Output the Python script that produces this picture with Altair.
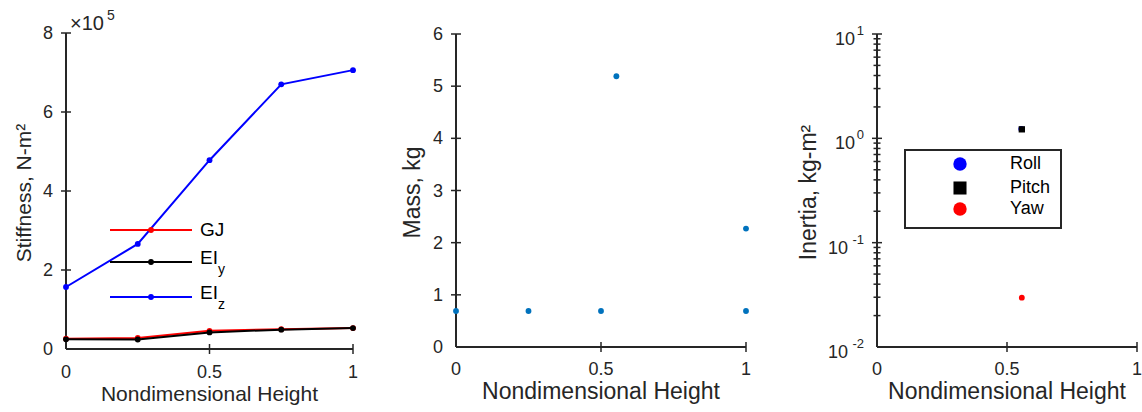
import altair as alt
import pandas as pd

FONT = "Liberation Sans"
AX = "#262626"

# ---------------- data ----------------
height_pts = [0.0, 0.25, 0.5, 0.75, 1.0]
gj_vals = [0.26e5, 0.28e5, 0.46e5, 0.50e5, 0.53e5]
eiy_vals = [0.245e5, 0.24e5, 0.42e5, 0.49e5, 0.53e5]
eiz_vals = [1.57e5, 2.66e5, 4.78e5, 6.70e5, 7.06e5]
stiff_names = ["GJ", "EI", "EI"]
stiff_subs = ["", "y", "z"]
stiff_colors = ["#ff0000", "#000000", "#0000ff"]
stiff_ticks = [0, 200000, 400000, 600000, 800000]
stiff_tick_labels = ["0", "2", "4", "6", "8"]

mass_x = [0.0, 0.25, 0.5, 0.553, 1.0, 1.0]
mass_vals = [0.69, 0.69, 0.69, 5.19, 2.27, 0.69]
mass_ticks = [0, 1, 2, 3, 4, 5, 6]
mass_tick_labels = ["0", "1", "2", "3", "4", "5", "6"]

inertia_names = ["Roll", "Pitch", "Yaw"]
inertia_x = [0.555, 0.557, 0.557]
inertia_vals = [1.23, 1.22, 0.0297]
inertia_shapes = ["circle", "square", "circle"]
inertia_colors = ["#0000ff", "#000000", "#ff0000"]
log_ticks = [0.01, 0.1, 1, 10]
log_sups = ["-2", "-1", "0", "1"]
log_minor = [0.02, 0.03, 0.04, 0.05, 0.06, 0.07, 0.08, 0.09,
             0.2, 0.3, 0.4, 0.5, 0.6, 0.7, 0.8, 0.9,
             2, 3, 4, 5, 6, 7, 8, 9]
x_ticks = [0, 0.5, 1]
x_tick_labels = ["0", "0.5", "1"]
x_title = "Nondimensional Height"


def lin(domain, rng):
    return alt.Scale(type="linear", domain=domain, range=rng, nice=False, zero=False)


XS1, YS1 = lin([0, 1], [66, 353]), lin([0, 800000], [349, 33])
XS2, YS2 = lin([0, 1], [456, 746]), lin([0, 6], [347, 34])
XS3 = lin([0, 1], [877, 1137])
YS3 = alt.Scale(type="log", domain=[0.01, 10], range=[347, 34], nice=False)

layers = []


def one(**cols):
    return alt.Chart(pd.DataFrame({k: [v] for k, v in cols.items()}))


def text(txt, x, y, size, color="#000000", align="left", baseline="middle", angle=0):
    layers.append(one(t=txt).mark_text(font=FONT, fontSize=size, color=color, align=align,
                                       baseline=baseline, angle=angle)
                  .encode(text="t:N", x=alt.value(x), y=alt.value(y)))


def axes(xs, ys, yt, ylabels, ylab_right, xlab_base, ytitle, ytitle_x, ytitle_size,
         xtitle_base, xtitle_size, minor=None):
    # axis lines
    layers.append(one(h=x_ticks[0], a=yt[0], b=yt[-1]).mark_rule(color=AX, strokeWidth=2).encode(
        x=alt.X("h:Q", scale=xs, axis=None), y=alt.Y("a:Q", scale=ys, axis=None), y2="b:Q"))
    layers.append(one(h0=x_ticks[0], h1=x_ticks[-1], a=yt[0]).mark_rule(color=AX, strokeWidth=2).encode(
        x=alt.X("h0:Q", scale=xs, axis=None), x2="h1:Q", y=alt.Y("a:Q", scale=ys, axis=None)))
    # inward ticks (centred on the axis line, half of each shows inside)
    layers.append(alt.Chart(pd.DataFrame({"v": yt[1:], "h": [x_ticks[0]] * (len(yt) - 1)})).mark_tick(
        orient="horizontal", color=AX, thickness=1.5, size=10, opacity=1).encode(
        y=alt.Y("v:Q", scale=ys, axis=None), x=alt.X("h:Q", scale=xs, axis=None)))
    if minor:
        layers.append(alt.Chart(pd.DataFrame({"v": minor, "h": [x_ticks[0]] * len(minor)})).mark_tick(
            orient="horizontal", color=AX, thickness=1.5, size=7, opacity=1).encode(
            y=alt.Y("v:Q", scale=ys, axis=None), x=alt.X("h:Q", scale=xs, axis=None)))
    layers.append(alt.Chart(pd.DataFrame({"v": x_ticks[1:], "a": [yt[0]] * (len(x_ticks) - 1)})).mark_tick(
        orient="vertical", color=AX, thickness=1.5, size=10, opacity=1).encode(
        x=alt.X("v:Q", scale=xs, axis=None), y=alt.Y("a:Q", scale=ys, axis=None)))
    # tick labels
    if ylabels is not None:
        layers.append(alt.Chart(pd.DataFrame({"v": yt, "t": ylabels})).mark_text(
            font=FONT, fontSize=18, color=AX, align="right", baseline="middle", dy=1).encode(
            y=alt.Y("v:Q", scale=ys, axis=None), x=alt.value(ylab_right), text="t:N"))
    layers.append(alt.Chart(pd.DataFrame({"v": x_ticks, "t": x_tick_labels})).mark_text(
        font=FONT, fontSize=18, color=AX, align="center", baseline="alphabetic").encode(
        x=alt.X("v:Q", scale=xs, axis=None), y=alt.value(xlab_base), text="t:N"))
    # titles
    xc = (xs.range[0] + xs.range[1]) / 2
    text(x_title, xc, xtitle_base, xtitle_size, AX, "center", "alphabetic")
    yc = (ys.range[0] + ys.range[1]) / 2 + 2
    text(ytitle, ytitle_x, yc, ytitle_size, AX, "center", "alphabetic", 270)


# ---------------- panel 1 ----------------
axes(XS1, YS1, stiff_ticks, stiff_tick_labels, 53, 378, "Stiffness, N-m²", 31, 21, 401, 21)
for vals, col in zip([gj_vals, eiy_vals, eiz_vals], stiff_colors):
    df = pd.DataFrame({"h": height_pts, "k": vals})
    enc = dict(x=alt.X("h:Q", scale=XS1, axis=None), y=alt.Y("k:Q", scale=YS1, axis=None))
    layers.append(alt.Chart(df).mark_line(color=col, strokeWidth=2).encode(**enc))
    layers.append(alt.Chart(df).mark_circle(color=col, size=34, opacity=1).encode(**enc))

for name, sub, col, ry in zip(stiff_names, stiff_subs, stiff_colors, [230, 262, 297]):
    layers.append(one(a=0).mark_rule(color=col, strokeWidth=2).encode(
        x=alt.value(110), x2=alt.value(192), y=alt.value(ry)))
    layers.append(one(a=0).mark_circle(color=col, size=34, opacity=1).encode(
        x=alt.value(151), y=alt.value(ry)))
    if sub:
        text(name, 200, ry - 4, 19)
        text(sub, 218, ry + 8, 14)
    else:
        text(name, 200, ry, 19)

text("×10", 70, 30, 20, AX, "left", "alphabetic")
text("5", 107, 20, 14, AX, "left", "alphabetic")

# ---------------- panel 2 ----------------
axes(XS2, YS2, mass_ticks, mass_tick_labels, 443, 375, "Mass, kg", 420, 23, 399, 23)
layers.append(alt.Chart(pd.DataFrame({"h": mass_x, "m": mass_vals})).mark_circle(
    color="#0072bd", size=34, opacity=1).encode(
    x=alt.X("h:Q", scale=XS2, axis=None), y=alt.Y("m:Q", scale=YS2, axis=None)))

# ---------------- panel 3 ----------------
axes(XS3, YS3, log_ticks, None, 863, 375, "Inertia, kg-m²", 816, 23, 399, 23, minor=log_minor)
for v, s in zip(log_ticks, log_sups):
    sup_w = 7 * len(s) + 1
    layers.append(one(v=v, t="10").mark_text(
        font=FONT, fontSize=18, color=AX, align="right", baseline="alphabetic", dy=11).encode(
        y=alt.Y("v:Q", scale=YS3, axis=None), x=alt.value(863 - sup_w), text="t:N"))
    layers.append(one(v=v, t=s).mark_text(
        font=FONT, fontSize=13, color=AX, align="right", baseline="alphabetic", dy=1).encode(
        y=alt.Y("v:Q", scale=YS3, axis=None), x=alt.value(864), text="t:N"))

for name, xv, val, shp, col in zip(inertia_names, inertia_x, inertia_vals, inertia_shapes, inertia_colors):
    layers.append(alt.Chart(pd.DataFrame({"h": [xv], "i": [val]})).mark_point(
        shape=shp, filled=True, color=col, opacity=1, size=40 if shp == "square" else 34).encode(
        x=alt.X("h:Q", scale=XS3, axis=None), y=alt.Y("i:Q", scale=YS3, axis=None)))

layers.append(one(a=0).mark_rect(fill="white", stroke=AX, strokeWidth=2).encode(
    x=alt.value(905), x2=alt.value(1061), y=alt.value(150), y2=alt.value(228)))
for name, shp, col, ry in zip(inertia_names, inertia_shapes, inertia_colors, [164, 188, 209]):
    layers.append(one(a=0).mark_point(shape=shp, filled=True, color=col, opacity=1,
                                      size=170 if shp == "square" else 180).encode(
        x=alt.value(960), y=alt.value(ry)))
    text(name, 1010, ry, 18)

chart = alt.layer(*layers).resolve_scale(x="independent", y="independent").properties(
    width=1142, height=412,
    padding=0,
    autosize=alt.AutoSizeParams(type="none"),
    background="white",
).configure_view(stroke=None)

chart.save("out.html", embed_options={"renderer": "svg", "actions": False})
